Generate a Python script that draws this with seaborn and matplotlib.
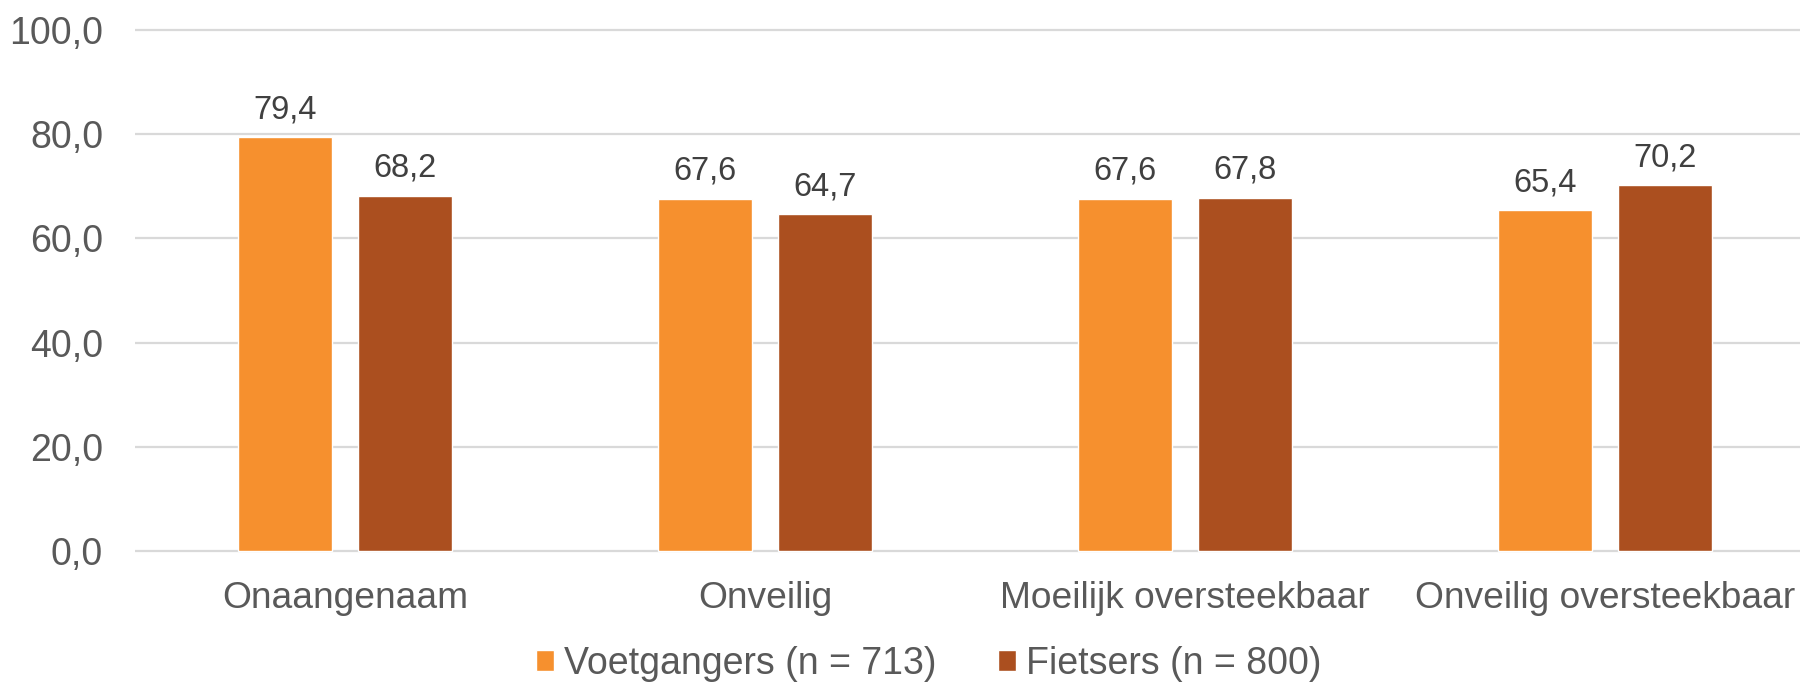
import pandas as pd
import matplotlib.pyplot as plt
from matplotlib.ticker import FuncFormatter
import seaborn as sns

# Data
categories = ['Onaangenaam', 'Onveilig', 'Moeilijk oversteekbaar', 'Onveilig oversteekbaar']
voetgangers = [79.4, 67.6, 67.6, 65.4]
fietsers = [68.2, 64.7, 67.8, 70.2]
series = ['Voetgangers (n = 713)', 'Fietsers (n = 800)']
colors = ['#F6902E', '#AB4F1F']

df = pd.DataFrame({
    'categorie': categories * 2,
    'waarde': voetgangers + fietsers,
    'groep': [series[0]] * len(categories) + [series[1]] * len(categories),
})

sns.set_style('white')
plt.rcParams['font.family'] = ['Liberation Sans', 'DejaVu Sans']

fig = plt.figure(figsize=(18, 6.83), dpi=100)
# axes placed in pixels: x from 135 to 1815, y from 0 -> 551px, 100 -> 30px
ppu = (551 - 30) / 100
y_lo, y_hi = -0.6, 100.6
bottom_px = 551 + (0 - y_lo) * ppu
top_px = 30 - (y_hi - 100) * ppu
ax = fig.add_axes([135 / 1800, 1 - bottom_px / 683, 1680 / 1800, (bottom_px - top_px) / 683])

sns.barplot(data=df, x='categorie', y='waarde', hue='groep', palette=colors,
            width=0.57, gap=0.22, ax=ax, saturation=1)

for cont in ax.containers:
    ax.bar_label(cont, labels=[f"{b.get_height():.1f}".replace('.', ',') for b in cont],
                 padding=8.5, fontsize=23.5, color='#404040')

ax.set_xlim(-0.5, 3.5)
ax.set_ylim(y_lo, y_hi)
ax.set_yticks([0, 20, 40, 60, 80, 100])
ax.yaxis.set_major_formatter(FuncFormatter(lambda v, p: f"{v:.1f}".replace('.', ',')))
ax.grid(axis='y', color='#D9D9D9', linewidth=1.6)
ax.set_axisbelow(True)
for s in ax.spines.values():
    s.set_visible(False)
ax.tick_params(axis='both', length=0, colors='#595959')
ax.tick_params(axis='y', pad=23, labelsize=27)
ax.tick_params(axis='x', pad=19, labelsize=26.7)
ax.set_xlabel('')
ax.set_ylabel('')

handles, labels = ax.get_legend_handles_labels()
ax.get_legend().remove()
fig.legend(handles, labels, loc='center', bbox_to_anchor=(0.516, 1 - 664 / 683),
           ncol=2, frameon=False, fontsize=27, labelcolor='#595959',
           handlelength=0.48, handleheight=0.48, handletextpad=0.27,
           columnspacing=1.63, borderpad=0)

plt.savefig('out.png', dpi=100)
